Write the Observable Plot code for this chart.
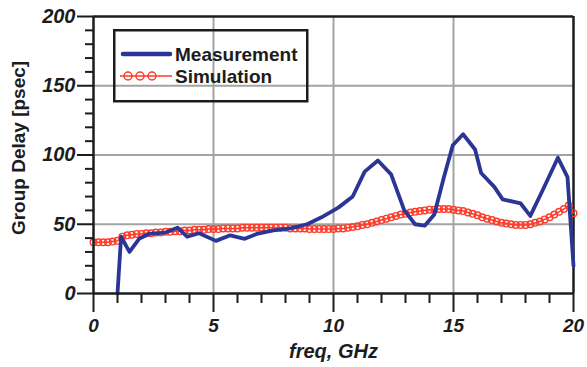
<!DOCTYPE html>
<html><head><meta charset="utf-8">
<script src="https://cdn.jsdelivr.net/npm/d3@7"></script>
<script src="https://cdn.jsdelivr.net/npm/@observablehq/plot@0.6"></script>
<style>
body{margin:0;background:#fff;}
#wrap{position:relative;width:587px;height:367px;font-family:"Liberation Sans",Arial,sans-serif;}
#legend{position:absolute;left:113px;top:29px;}
</style></head><body><div id="wrap"></div>
<script>
const seriesNames = ["Measurement", "Simulation"];
const seriesColors = ["#2b3595", "#ff3b2a"];
const measFreq  = [1.0, 1.15, 1.5, 1.9, 2.3, 3.0, 3.5, 3.9, 4.4, 5.1, 5.7, 6.3, 6.8, 7.5, 8.2, 8.9, 9.5, 10.2, 10.8, 11.3, 11.85, 12.4, 12.95, 13.4, 13.8, 14.2, 14.6, 14.97, 15.4, 15.9, 16.15, 16.7, 17.05, 17.8, 18.2, 18.7, 19.35, 19.75, 20.0];
const measDelay = [0, 41, 30, 39.5, 43, 44, 47.5, 41, 43.5, 38, 42, 39.5, 43, 45.5, 47, 50, 55, 62, 70, 88, 96, 86, 60, 50, 49, 57, 84, 107, 115, 104, 87, 77, 68, 65, 56, 74, 98, 84, 20];
const simFreq = [0.0,0.2,0.4,0.6,0.8,1.0,1.2,1.4,1.6,1.8,2.0,2.2,2.4,2.6,2.8,3.0,3.2,3.4,3.6,3.8,4.0,4.2,4.4,4.6,4.8,5.0,5.2,5.4,5.6,5.8,6.0,6.2,6.4,6.6,6.8,7.0,7.2,7.4,7.6,7.8,8.0,8.2,8.4,8.6,8.8,9.0,9.2,9.4,9.6,9.8,10.0,10.2,10.4,10.6,10.8,11.0,11.2,11.4,11.6,11.8,12.0,12.2,12.4,12.6,12.8,13.0,13.2,13.4,13.6,13.8,14.0,14.2,14.4,14.6,14.8,15.0,15.2,15.4,15.6,15.8,16.0,16.2,16.4,16.6,16.8,17.0,17.2,17.4,17.6,17.8,18.0,18.2,18.4,18.6,18.8,19.0,19.2,19.4,19.6,19.8,20.0];
const simDelay = [37,37,37,37,37.5,38,41,42,42.5,43,43,43.5,43.5,44,44,44.5,44.5,45,45,45.5,45.5,46,46,46,46.5,46.5,46.5,47,47,47,47,47.5,47.5,47.5,47.5,47.5,47.5,47.5,47.5,47.5,47.5,47,47,47,47,46.5,46.5,46.5,46.5,46.5,46.5,47,47,47.5,48,48.5,49.5,50,51,52,53,54,55,56,57,57.5,58.5,59,59.5,60,60.5,60.5,61,61,61,60.5,60,59.5,58.5,57.5,56.5,55,54,53,52,51,50.5,50,49.5,49.5,49.5,50,51,52,53.5,55,57,59,61,63.5,58];
const xMajorTicks = [0, 5, 10, 15, 20];
const xMinorTicks = [1,2,3,4,6,7,8,9,11,12,13,14,16,17,18,19];
const yMajorTicks = [0, 50, 100, 150, 200];
const yMinorTicks = [10,20,30,40,60,70,80,90,110,120,130,140,160,170,180,190];
const xGrid = [5, 10, 15];
const yGrid = [50, 100, 150];
const xTitle = "freq, GHz";
const yTitle = "Group Delay [psec]";

const meas = measFreq.map((f, i) => ({f, v: measDelay[i]}));
const sim = simFreq.map((f, i) => ({f, v: simDelay[i]}));
const ink = "#1c1c1c";
const lab = {fontWeight: "bold", fontStyle: "italic", fill: ink};

const chart = Plot.plot({
  width: 587, height: 367,
  marginLeft: 93, marginRight: 14, marginTop: 16, marginBottom: 74,
  x: {domain: [0, 20]},
  y: {domain: [0, 200]},
  style: {fontFamily: "Liberation Sans, Arial, sans-serif", background: "white", overflow: "visible"},
  marks: [
    Plot.gridX(xGrid, {stroke: "#a3a3a3", strokeOpacity: 1, strokeWidth: 2}),
    Plot.gridY(yGrid, {stroke: "#a3a3a3", strokeOpacity: 1, strokeWidth: 2}),
    Plot.ruleY([200], {stroke: ink, strokeWidth: 2.5}),
    Plot.ruleX([20], {stroke: ink, strokeWidth: 2.5}),
    Plot.line(sim, {x: "f", y: "v", stroke: seriesColors[1], strokeWidth: 1.5}),
    Plot.dot(sim, {x: "f", y: "v", r: 3.3, stroke: seriesColors[1], strokeWidth: 1.4, fill: "none"}),
    Plot.line(meas, {x: "f", y: "v", stroke: seriesColors[0], strokeWidth: 3.8, strokeLinejoin: "round"}),
    Plot.ruleX([0], {stroke: ink, strokeWidth: 2.5}),
    Plot.ruleY([0], {stroke: ink, strokeWidth: 2.5}),
    Plot.axisY(yMajorTicks, {tickSize: 16, tickPadding: 2, strokeWidth: 2, stroke: ink, label: null, ...lab, fontSize: 20}),
    Plot.axisY(yMinorTicks, {tickSize: 8, text: null, strokeWidth: 2, stroke: ink, label: null}),
    Plot.axisX(xMajorTicks, {tickSize: 19, tickPadding: 6, strokeWidth: 2, stroke: ink, label: null, ...lab, fontSize: 19}),
    Plot.axisX(xMinorTicks, {tickSize: 10, text: null, strokeWidth: 2, stroke: ink, label: null}),
    Plot.text([yTitle], {text: d => d, frameAnchor: "left", dx: -75, dy: -7, rotate: -90, textAnchor: "middle", lineAnchor: "middle", fontSize: 19, fontWeight: "bold", fill: ink}),
    Plot.text([xTitle], {text: d => d, frameAnchor: "bottom", dy: 58, textAnchor: "middle", lineAnchor: "middle", fontSize: 20, fontWeight: "bold", fontStyle: "italic", fill: ink})
  ]
});
const wrap = document.getElementById("wrap");
wrap.appendChild(chart);

// legend (HTML/SVG overlay)
const leg = document.createElement("div");
leg.id = "legend";
const ns = "http://www.w3.org/2000/svg";
const ls = document.createElementNS(ns, "svg");
ls.setAttribute("width", 196); ls.setAttribute("height", 74);
ls.style.fontFamily = "Liberation Sans, Arial, sans-serif";
function el(tag, attrs) { const e = document.createElementNS(ns, tag); for (const k in attrs) e.setAttribute(k, attrs[k]); ls.appendChild(e); return e; }
el("rect", {x: 1.25, y: 1.25, width: 193, height: 71, fill: "none", stroke: ink, "stroke-width": 2.5});
el("line", {x1: 10, x2: 57, y1: 25, y2: 25, stroke: seriesColors[0], "stroke-width": 4.5, "stroke-linecap": "round"});
el("line", {x1: 7, x2: 59, y1: 47, y2: 47, stroke: seriesColors[1], "stroke-width": 1.5});
[15, 27, 39].forEach(cx => el("circle", {cx, cy: 47, r: 4, fill: "none", stroke: seriesColors[1], "stroke-width": 1.5}));
seriesNames.forEach((name, i) => {
  const t = el("text", {x: 62, y: 25 + i * 22, dy: "0.35em", "font-size": 19, "font-weight": "bold", fill: ink});
  t.textContent = name;
});
leg.appendChild(ls);
wrap.appendChild(leg);
</script></body></html>
